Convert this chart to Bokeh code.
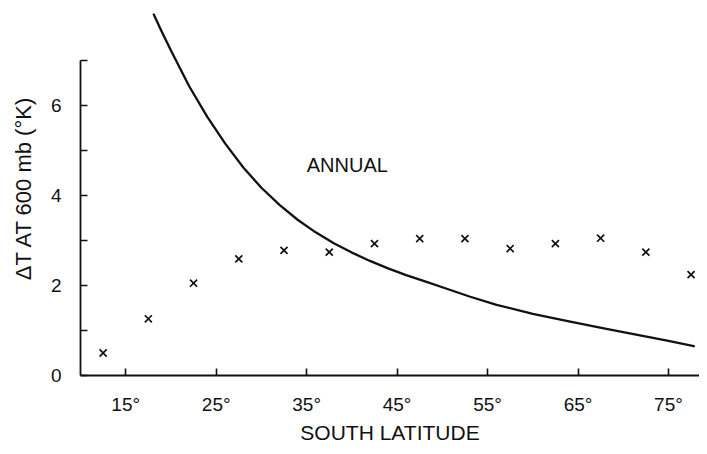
from bokeh.plotting import figure
from bokeh.models import Range1d, FixedTicker
from bokeh.core.properties import value
from bokeh.embed import file_html
from bokeh.resources import INLINE

# Observed points (x marks)
lat_pts = [12.5, 17.5, 22.5, 27.5, 32.5, 37.5, 42.5, 47.5, 52.5, 57.5, 62.5, 67.5, 72.5, 77.5]
dT_pts = [0.50, 1.26, 2.05, 2.59, 2.78, 2.74, 2.93, 3.04, 3.04, 2.82, 2.93, 3.05, 2.74, 2.24]

# "ANNUAL" curve
lat_curve = [18.1, 19.0, 20.0, 22.0, 24.0, 26.0, 28.0, 30.0, 32.0, 34.0, 36.0, 38.0, 40.0,
             42.0, 44.0, 46.0, 48.0, 50.0, 53.0, 56.0, 60.0, 64.0, 68.0, 72.0, 75.0, 77.8]
dT_curve = [8.02, 7.63, 7.22, 6.43, 5.75, 5.15, 4.62, 4.17, 3.79, 3.46, 3.18, 2.94, 2.73,
            2.545, 2.38, 2.23, 2.095, 1.96, 1.755, 1.57, 1.37, 1.20, 1.04, 0.885, 0.77, 0.65]

x_ticks = [15, 25, 35, 45, 55, 65, 75]
x_tick_labels = ["15°", "25°", "35°", "45°", "55°", "65°", "75°"]
y_ticks = [0, 2, 4, 6]
y_minor = [1, 3, 5, 7]

FONT = "Liberation Sans"
INK = "#111111"

p = figure(width=699, height=446, output_backend="svg", toolbar_location=None,
           x_range=Range1d(10.0, 78.43), y_range=Range1d(0, 8.33),
           min_border_left=80, min_border_right=0, min_border_top=0, min_border_bottom=71)
p.outline_line_color = None
p.xgrid.visible = False
p.ygrid.visible = False
p.background_fill_color = "white"
p.border_fill_color = "white"

p.line(lat_curve, dT_curve, line_color=INK, line_width=2.3, line_join="round", line_cap="round")
p.scatter(lat_pts, dT_pts, marker="x", size=10, line_color=INK, line_width=1.7)

p.text(x=[39.5], y=[4.68], text=["ANNUAL"], text_font=value(FONT), text_font_size="20px",
       text_align="center", text_baseline="middle", text_color=INK)

for ax in (p.xaxis[0], p.yaxis[0]):
    ax.axis_line_color = INK
    ax.axis_line_width = 1.8
    ax.major_tick_line_color = INK
    ax.major_tick_line_width = 1.6
    ax.minor_tick_line_color = INK
    ax.minor_tick_line_width = 1.6
    ax.major_tick_in = 7
    ax.major_tick_out = 0
    ax.minor_tick_in = 7
    ax.minor_tick_out = 0
    ax.major_label_text_font = FONT
    ax.major_label_text_font_size = "19px"
    ax.major_label_text_color = INK
    ax.axis_label_text_font = FONT
    ax.axis_label_text_font_style = "normal"
    ax.axis_label_text_color = INK

xa = p.xaxis[0]
xa.ticker = FixedTicker(ticks=x_ticks, minor_ticks=[])
xa.major_label_overrides = {t: s for t, s in zip(x_ticks, x_tick_labels)}
xa.major_label_standoff = 18
xa.bounds = (10, 80)
xa.axis_label = "SOUTH LATITUDE"
xa.axis_label_text_font_size = "21px"
xa.axis_label_standoff = 3

ya = p.yaxis[0]
ya.ticker = FixedTicker(ticks=y_ticks, minor_ticks=y_minor)
ya.major_label_standoff = 19
ya.major_label_orientation = "horizontal"
ya.bounds = (0, 7)
ya.axis_label = "ΔT AT 600 mb (°K)"
ya.axis_label_text_font_size = "22px"
ya.axis_label_standoff = 12

open("out.html", "w").write(file_html(p, INLINE))
